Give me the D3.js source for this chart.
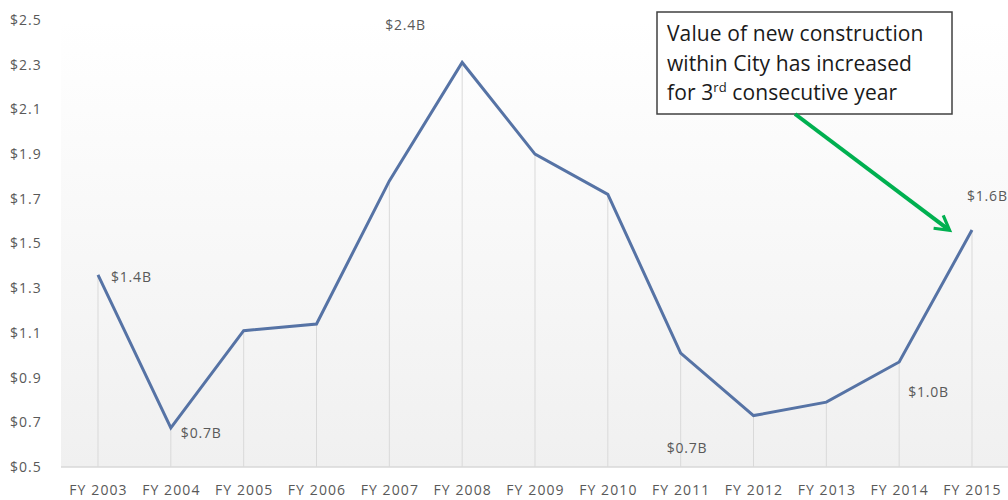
<!DOCTYPE html>
<html>
<head>
<meta charset="utf-8">
<script src="https://cdn.jsdelivr.net/npm/d3@7"></script>
<style>
  body { margin: 0; background: #fff; }
  svg text { font-family: "Open Sans", "Noto Sans", sans-serif; }
</style>
</head>
<body>
<div id="root"></div>
<script>
const years = ["FY 2003", "FY 2004", "FY 2005", "FY 2006", "FY 2007", "FY 2008", "FY 2009",
  "FY 2010", "FY 2011", "FY 2012", "FY 2013", "FY 2014", "FY 2015"];
const values = [1.36, 0.675, 1.11, 1.14, 1.78, 2.31, 1.90, 1.72, 1.01, 0.73, 0.79, 0.97, 1.56];
const yTicks = [0.5, 0.7, 0.9, 1.1, 1.3, 1.5, 1.7, 1.9, 2.1, 2.3, 2.5];
const labelYears = ["FY 2003", "FY 2004", "FY 2008", "FY 2011", "FY 2014", "FY 2015"];
const labelTexts = ["$1.4B", "$0.7B", "$2.4B", "$0.7B", "$1.0B", "$1.6B"];
const noteLines = ["Value of new construction", "within City has increased", "for 3|rd| consecutive year"];

const W = 1008, H = 500;
const margin = {top: 20, right: 0, bottom: 33, left: 61};

const svg = d3.select("#root").append("svg")
  .attr("width", W)
  .attr("height", H);

const x = d3.scalePoint()
  .domain(years)
  .range([98, 972]);

const y = d3.scaleLinear()
  .domain([0.5, 2.5])
  .range([H - margin.bottom, margin.top]);

// plot background gradient
const grad = svg.append("defs").append("linearGradient")
  .attr("id", "bg").attr("x1", 0).attr("y1", 0).attr("x2", 0).attr("y2", 1);
grad.append("stop").attr("offset", "0%").attr("stop-color", "#ffffff");
grad.append("stop").attr("offset", "100%").attr("stop-color", "#f0f0f0");

svg.append("rect")
  .attr("x", margin.left)
  .attr("y", margin.top)
  .attr("width", W - margin.left - margin.right)
  .attr("height", y(0.5) - margin.top)
  .attr("fill", "url(#bg)");

// y axis labels
svg.selectAll(".ytick")
  .data(yTicks)
  .enter().append("text")
  .attr("class", "ytick")
  .attr("x", 10)
  .attr("y", d => y(d))
  .attr("dy", "0.35em")
  .attr("font-size", 14)
  .attr("letter-spacing", 1)
  .attr("fill", "#595959")
  .text(d => "$" + d3.format(".1f")(d));

// x axis
const xAxis = d3.axisBottom(x).tickSize(0).tickPadding(18);
const gx = svg.append("g")
  .attr("transform", "translate(0," + y(0.5) + ")")
  .call(xAxis);
gx.select(".domain").remove();
gx.selectAll("text")
  .attr("font-size", 14)
  .attr("letter-spacing", 1.1)
  .attr("fill", "#595959")
  .style("font-family", "'Open Sans', 'Noto Sans', sans-serif");

// baseline
svg.append("line")
  .attr("x1", margin.left).attr("x2", W)
  .attr("y1", y(0.5)).attr("y2", y(0.5))
  .attr("stroke", "#d9d9d9")
  .attr("stroke-width", 1.5);

// drop lines
svg.selectAll(".drop")
  .data(values)
  .enter().append("line")
  .attr("class", "drop")
  .attr("x1", (d, i) => x(years[i]))
  .attr("x2", (d, i) => x(years[i]))
  .attr("y1", d => y(d))
  .attr("y2", y(0.5))
  .attr("stroke", "#d9d9d9")
  .attr("stroke-width", 1);

// line
const line = d3.line()
  .x((d, i) => x(years[i]))
  .y(d => y(d));

svg.append("path")
  .datum(values)
  .attr("fill", "none")
  .attr("stroke", "#5673a5")
  .attr("stroke-width", 3)
  .attr("stroke-linejoin", "miter")
  .attr("d", line);

// data labels (offsets from their point)
const labelOffsets = [[13, 7], [10, 10], [-77, -32], [-14, 100], [9, 35], [-5, -29]];
svg.selectAll(".dlabel")
  .data(labelTexts)
  .enter().append("text")
  .attr("class", "dlabel")
  .attr("x", (d, i) => x(labelYears[i]) + labelOffsets[i][0])
  .attr("y", (d, i) => y(values[years.indexOf(labelYears[i])]) + labelOffsets[i][1])
  .attr("font-size", 14)
  .attr("letter-spacing", 0.8)
  .attr("fill", "#595959")
  .text(d => d);

// annotation box
const note = svg.append("g").attr("transform", "translate(657,12)");
note.append("rect")
  .attr("width", 295)
  .attr("height", 102)
  .attr("fill", "#fff")
  .attr("stroke", "#404040")
  .attr("stroke-width", 1.5);

noteLines.forEach((l, i) => {
  const t = note.append("text")
    .attr("x", 10)
    .attr("y", 29 + i * 29.5)
    .attr("font-size", 21)
    .attr("letter-spacing", 0.1)
    .attr("fill", "#1a1a1a");
  const parts = l.split("|");
  t.append("tspan").text(parts[0]);
  if (parts.length > 1) {
    t.append("tspan").attr("font-size", 13).attr("dy", -8).text(parts[1]);
    t.append("tspan").attr("dy", 8).text(parts[2]);
  }
});

// green arrow pointing to FY 2015
const defs = svg.select("defs");
defs.append("marker")
  .attr("id", "arrow")
  .attr("viewBox", "0 0 10 10")
  .attr("refX", 7).attr("refY", 5)
  .attr("markerWidth", 5).attr("markerHeight", 5)
  .attr("orient", "auto")
  .append("path")
  .attr("d", "M1,1 L8,5 L1,9")
  .attr("fill", "none")
  .attr("stroke", "#00b050")
  .attr("stroke-width", 1.6);

svg.append("line")
  .attr("x1", 795).attr("y1", 114)
  .attr("x2", x("FY 2015") - 24).attr("y2", y(values[12]) - 1)
  .attr("stroke", "#00b050")
  .attr("stroke-width", 4)
  .attr("marker-end", "url(#arrow)");
</script>
</body>
</html>
